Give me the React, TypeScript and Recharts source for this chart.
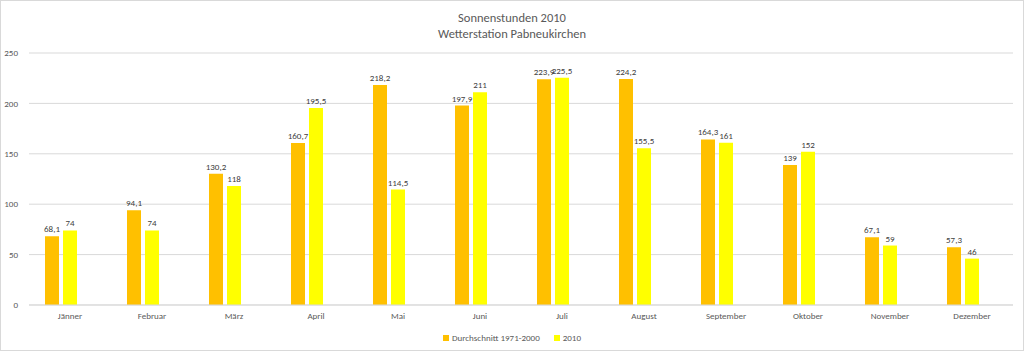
import { BarChart, Bar, XAxis, YAxis, CartesianGrid, LabelList } from "recharts";

if (typeof document !== "undefined") document.body.style.margin = "0";

const months = ["Jänner", "Februar", "März", "April", "Mai", "Juni", "Juli", "August", "September", "Oktober", "November", "Dezember"];
const average = [68.1, 94.1, 130.2, 160.7, 218.2, 197.9, 223.9, 224.2, 164.3, 139, 67.1, 57.3];
const year2010 = [74, 74, 118, 195.5, 114.5, 211, 225.5, 155.5, 161, 152, 59, 46];
const yTicks = [0, 50, 100, 150, 200, 250];

// the source chart reserves room for a third, empty series in each group
const data = months.map((m, i) => ({ month: m, avg: average[i], y2010: year2010[i], empty: null }));

const font = "Calibri, 'Liberation Sans', 'Open Sans', sans-serif";
const fmt = (v: any) => String(v).replace(".", ",");

export default function App() {
  return (
    <div style={{ position: "relative", width: 1022, height: 349, border: "1px solid #d9d9d9", fontFamily: font, background: "#fff" }}>
      <div style={{ position: "absolute", top: 9, left: 0, width: "100%", textAlign: "center", fontSize: 12.5, color: "#595959", lineHeight: "16px" }}>
        Sonnenstunden 2010
        <br />
        Wetterstation Pabneukirchen
      </div>
      <BarChart width={1022} height={349} data={data} margin={{ top: 52, right: 10, left: 0, bottom: 25 }} barGap={4} barSize={14}>
        <CartesianGrid vertical={false} stroke="#d9d9d9" />
        <XAxis dataKey="month" tickLine={false} axisLine={{ stroke: "#d9d9d9" }} tick={{ fontSize: 9, fill: "#595959", fontFamily: font }} height={20} />
        <YAxis domain={[0, 250]} ticks={yTicks} width={28} axisLine={false} tickLine={false} tick={{ fontSize: 9, fill: "#595959", fontFamily: font }} dx={-3} />
        <Bar dataKey="avg" fill="#FFC000" isAnimationActive={false}>
          <LabelList dataKey="avg" position="top" offset={4} formatter={fmt} style={{ fontSize: 9, fill: "#404040", fontFamily: font }} />
        </Bar>
        <Bar dataKey="y2010" fill="#FFFF00" isAnimationActive={false}>
          <LabelList dataKey="y2010" position="top" offset={4} formatter={fmt} style={{ fontSize: 9, fill: "#404040", fontFamily: font }} />
        </Bar>
        <Bar dataKey="empty" fill="none" isAnimationActive={false} />
      </BarChart>
      <div style={{ position: "absolute", top: 331, left: 0, width: "100%", display: "flex", justifyContent: "center", gap: 14, fontSize: 9, color: "#595959" }}>
        <span style={{ display: "flex", alignItems: "center", gap: 3 }}>
          <span style={{ width: 6, height: 6, background: "#FFC000", display: "inline-block" }} />
          Durchschnitt 1971-2000
        </span>
        <span style={{ display: "flex", alignItems: "center", gap: 3 }}>
          <span style={{ width: 6, height: 6, background: "#FFFF00", display: "inline-block" }} />
          2010
        </span>
      </div>
    </div>
  );
}
